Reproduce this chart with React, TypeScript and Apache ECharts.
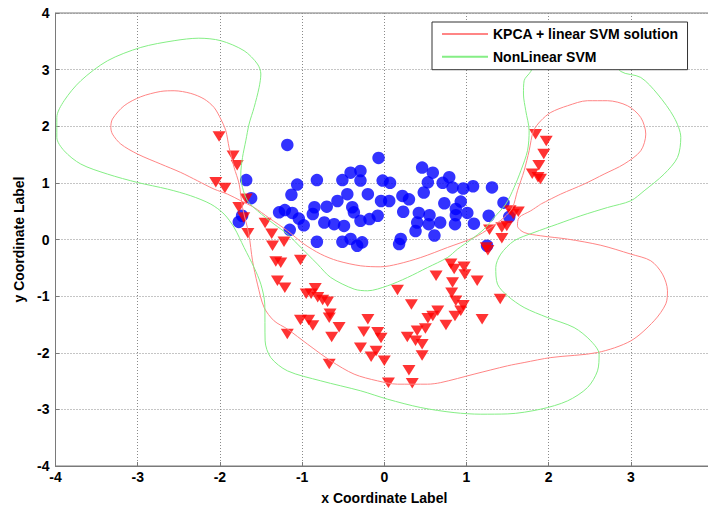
import React, { useEffect, useRef } from "react";
import * as echarts from "echarts";

const FONT = '"Liberation Sans", Arial, sans-serif';

const xTicks = [-4, -3, -2, -1, 0, 1, 2, 3, 4];
const yTicks = [-4, -3, -2, -1, 0, 1, 2, 3, 4];
const legendNames = ["KPCA + linear SVM solution", "NonLinear SVM"];

const blueClass: [number, number][] = [
  [-1.18, 1.67], [-0.07, 1.44], [-1.68, 1.05], [-0.82, 1.05], [-1.06, 0.97], [-0.51, 1.05],
  [-0.41, 1.18], [-0.29, 1.21], [-0.29, 1.04], [-0.02, 1.04], [0.07, 1.0], [-1.13, 0.79],
  [-1.62, 0.73], [-0.45, 0.8], [-0.2, 0.8], [-0.57, 0.68], [-0.04, 0.68], [0.06, 0.68],
  [-1.28, 0.48], [-1.21, 0.52], [-1.12, 0.47], [-0.85, 0.57], [-0.7, 0.58], [-0.39, 0.57],
  [-0.87, 0.45], [-1.04, 0.37], [-0.98, 0.25], [-1.77, 0.31], [-1.73, 0.42], [-0.73, 0.3],
  [-0.61, 0.27], [-0.49, 0.24], [-0.29, 0.33], [-0.18, 0.36], [-0.08, 0.42], [-0.37, 0.48],
  [-1.15, 0.17], [-0.82, -0.04], [-0.51, -0.04], [-0.27, -0.05], [-0.41, 0.01], [-0.33, -0.11],
  [0.46, 1.27], [0.59, 1.18], [0.53, 1.01], [0.79, 1.1], [0.71, 1.0], [0.83, 0.92],
  [0.96, 0.9], [1.08, 0.94], [1.31, 0.92], [0.48, 0.83], [0.22, 0.77], [0.3, 0.71],
  [0.73, 0.64], [0.93, 0.67], [0.87, 0.54], [0.23, 0.49], [0.42, 0.47], [0.55, 0.43],
  [0.87, 0.43], [1.01, 0.47], [1.27, 0.42], [1.45, 0.65], [0.4, 0.3], [0.54, 0.27],
  [0.68, 0.3], [0.86, 0.27], [1.09, 0.28], [0.38, 0.15], [0.61, 0.07], [0.2, 0.01],
  [0.18, -0.08], [1.52, 0.4], [1.25, -0.11],
];

const redClass: [number, number][] = [
  [-2.01, 1.82], [-1.84, 1.48], [-1.79, 1.31], [-2.05, 1.01], [-1.94, 0.91], [-1.68, 0.72],
  [-1.77, 0.57], [-1.71, 0.39], [-1.45, 0.29], [-1.66, 0.11], [-1.37, 0.1], [-1.22, -0.04],
  [-1.36, -0.11], [-1.32, -0.39], [-1.26, -0.41], [-1.02, -0.36], [-1.3, -0.73], [-1.21, -0.85],
  [-0.95, -0.96], [-0.84, -0.86], [-0.89, -0.96], [-0.81, -1.02], [-0.75, -1.07], [-0.69, -1.1],
  [-0.66, -1.31], [-0.67, -1.38], [-1.02, -1.42], [-0.92, -1.42], [-0.87, -1.52], [-0.55, -1.55],
  [-0.64, -1.72], [-1.18, -1.67], [-0.2, -1.41], [-0.25, -1.63], [-0.08, -1.64], [-0.04, -1.74],
  [-0.29, -1.91], [-0.1, -1.97], [-0.16, -2.07], [0.0, -2.14], [-0.67, -2.2],
  [0.81, -0.43], [0.85, -0.52], [0.97, -0.48], [0.98, -0.62], [1.13, -0.73], [0.63, -0.64],
  [0.83, -0.76], [0.16, -0.89], [0.82, -0.94], [0.87, -1.08], [0.96, -1.16], [1.41, -1.05],
  [0.33, -1.15], [0.93, -1.26], [0.86, -1.35], [0.65, -1.26], [0.59, -1.35], [0.53, -1.39],
  [1.19, -1.41], [0.75, -1.51], [0.5, -1.57], [0.4, -1.61], [0.28, -1.72], [0.38, -1.79],
  [0.46, -1.85], [0.46, -2.05], [0.3, -2.31], [0.05, -2.53], [0.34, -2.54],
  [1.84, 1.86], [1.97, 1.74], [1.94, 1.51], [1.88, 1.31], [1.8, 1.16], [1.87, 1.1],
  [1.9, 1.07], [1.53, 0.51], [1.63, 0.49], [1.57, 0.45], [1.28, 0.17], [1.43, 0.21],
  [1.49, 0.24], [1.43, 0.02], [1.24, -0.14], [1.26, -0.19],
];

const kpcaCurve: [number, number][] = [
  [1.904, 0.625], [1.782, 0.507], [1.64, 0.389], [1.62, 0.242], [1.701, 0.124], [1.904, 0.065],
  [2.229, 0.007], [2.634, -0.102], [2.999, -0.258], [3.242, -0.376], [3.384, -0.611], [3.445, -0.906],
  [3.425, -1.136], [3.282, -1.436], [2.999, -1.79], [2.594, -1.996], [2.026, -2.085], [1.701, -2.173],
  [1.499, -2.231], [1.092, -2.378], [0.687, -2.527], [0.526, -2.555], [0.161, -2.555], [-0.083, -2.496],
  [-0.367, -2.378], [-0.651, -2.143], [-0.934, -1.848], [-1.178, -1.583], [-1.341, -1.436], [-1.462, -1.201],
  [-1.543, -0.788], [-1.603, -0.376], [-1.648, 0.095], [-1.725, 0.565], [-1.766, 0.979], [-1.827, 1.272],
  [-1.888, 1.625], [-1.928, 1.92], [-1.989, 2.127], [-2.071, 2.332], [-2.192, 2.481], [-2.354, 2.58],
  [-2.557, 2.627], [-2.719, 2.615], [-2.962, 2.521], [-3.165, 2.362], [-3.307, 2.127], [-3.327, 1.979],
  [-3.307, 1.862], [-3.206, 1.686], [-3.002, 1.509], [-2.719, 1.332], [-2.476, 1.184], [-2.273, 1.037],
  [-2.071, 0.89], [-1.908, 0.802], [-1.746, 0.684], [-1.584, 0.565], [-1.405, 0.383], [-1.178, 0.154],
  [-0.976, -0.081], [-0.773, -0.258], [-0.569, -0.376], [-0.286, -0.465], [-0.043, -0.482], [0.161, -0.435],
  [0.444, -0.318], [0.769, -0.141], [1.092, 0.035], [1.296, 0.212], [1.457, 0.389], [1.56, 0.565],
  [1.62, 0.86], [1.701, 1.214], [1.762, 1.567], [1.815, 1.92], [1.904, 2.097], [2.026, 2.244],
  [2.229, 2.362], [2.472, 2.451], [2.715, 2.451], [2.959, 2.362], [3.12, 2.155], [3.181, 1.862],
  [3.12, 1.567], [2.917, 1.332], [2.674, 1.155], [2.431, 0.979], [2.147, 0.802], [1.904, 0.625],
];

const svmCurve: [number, number][] = [
  [2.755, 3.246], [2.33, 3.475], [1.904, 3.334], [1.782, 2.968], [1.701, 2.804], [1.693, 2.569],
  [1.721, 2.274], [1.762, 1.92], [1.742, 1.567], [1.661, 1.214], [1.579, 0.919], [1.478, 0.625],
  [1.336, 0.389], [1.214, 0.184], [1.052, -0.005], [0.891, -0.17], [0.769, -0.318], [0.526, -0.495],
  [0.282, -0.671], [0.039, -0.818], [-0.204, -0.906], [-0.367, -0.876], [-0.651, -0.671], [-0.813, -0.435],
  [-1.056, -0.081], [-1.178, 0.095], [-1.341, 0.272], [-1.543, 0.507], [-1.664, 0.684], [-1.725, 0.919],
  [-1.746, 1.155], [-1.725, 1.449], [-1.685, 1.744], [-1.645, 2.039], [-1.584, 2.332], [-1.523, 2.686],
  [-1.502, 2.922], [-1.543, 3.099], [-1.706, 3.334], [-1.989, 3.511], [-2.257, 3.555], [-2.557, 3.511],
  [-2.962, 3.392], [-3.367, 3.157], [-3.692, 2.804], [-3.895, 2.451], [-3.984, 2.155], [-3.984, 1.802],
  [-3.895, 1.567], [-3.692, 1.332], [-3.367, 1.155], [-3.002, 1.007], [-2.637, 0.89], [-2.354, 0.772],
  [-2.111, 0.625], [-1.949, 0.449], [-1.827, 0.212], [-1.706, -0.141], [-1.584, -0.495], [-1.502, -0.788],
  [-1.454, -1.141], [-1.45, -1.79], [-1.381, -2.085], [-1.178, -2.32], [-0.773, -2.496], [-0.286, -2.673],
  [0.039, -2.82], [0.444, -2.968], [0.849, -3.057], [1.174, -3.085], [1.502, -3.08], [1.904, -2.996],
  [2.229, -2.85], [2.472, -2.615], [2.594, -2.32], [2.613, -2.025], [2.512, -1.79], [2.309, -1.555],
  [1.985, -1.378], [1.701, -1.201], [1.499, -0.995], [1.377, -0.788], [1.356, -0.495], [1.417, -0.258],
  [1.579, -0.023], [1.822, 0.124], [2.107, 0.272], [2.391, 0.419], [2.715, 0.565], [2.999, 0.684],
  [3.161, 0.86], [3.404, 1.155], [3.567, 1.449], [3.607, 1.802], [3.526, 2.155], [3.324, 2.569],
  [3.12, 2.862], [2.877, 2.968], [2.755, 3.246],
];

export default function App() {
  const ref = useRef<HTMLDivElement>(null);

  useEffect(() => {
    document.body.style.margin = "0";
    const chart = echarts.init(ref.current!, null, { renderer: "svg" });
    const axisLabelStyle = {
      fontFamily: FONT,
      fontSize: 14,
      fontWeight: "bold" as const,
      color: "#000",
    };
    chart.setOption({
      animation: false,
      backgroundColor: "#fff",
      grid: {
        left: 55.5,
        top: 13,
        width: 657.6,
        height: 453,
        outerBoundsMode: "none",
        containLabel: false,
        show: true,
        borderColor: "#7a7a7a",
        borderWidth: 1,
        backgroundColor: "transparent",
      },
      legend: {
        orient: "vertical",
        left: 432,
        top: 22,
        data: legendNames,
        backgroundColor: "#fff",
        borderColor: "#333",
        borderWidth: 1,
        borderRadius: 0,
        padding: [5, 9, 6, 9],
        itemWidth: 46,
        itemHeight: 14,
        itemGap: 8.7,
        itemStyle: { opacity: 0 },
        textStyle: { fontFamily: FONT, fontSize: 14, fontWeight: "bold", color: "#000" },
      },
      xAxis: {
        type: "value",
        min: xTicks[0],
        max: xTicks[xTicks.length - 1],
        interval: 1,
        name: "x Coordinate Label",
        nameLocation: "middle",
        nameGap: 25,
        nameTextStyle: axisLabelStyle,
        axisLine: { show: true, onZero: false, lineStyle: { color: "#7a7a7a", width: 1 } },
        axisTick: { show: true, inside: true, length: 4, lineStyle: { color: "#7a7a7a" } },
        axisLabel: {
          ...axisLabelStyle,
          margin: 4,
          formatter: (v: number) => (xTicks.includes(v) && v !== 4 ? String(v) : ""),
        },
        splitLine: { show: true, lineStyle: { color: "#8a8a8a", type: [1, 2], width: 1 } },
      },
      yAxis: {
        type: "value",
        min: yTicks[0],
        max: yTicks[yTicks.length - 1],
        interval: 1,
        name: "y Coordinate Label",
        nameLocation: "middle",
        nameGap: 29,
        nameTextStyle: axisLabelStyle,
        axisLine: { show: true, onZero: false, lineStyle: { color: "#7a7a7a", width: 1 } },
        axisTick: { show: true, inside: true, length: 4, lineStyle: { color: "#7a7a7a" } },
        axisLabel: { ...axisLabelStyle, margin: 6, formatter: (v: number) => String(v) },
        splitLine: { show: true, lineStyle: { color: "#8a8a8a", type: [1, 2], width: 1 } },
      },
      series: [
        {
          name: "class1",
          type: "scatter",
          data: blueClass,
          symbol: "circle",
          symbolSize: 12.5,
          itemStyle: { color: "#0000ff" },
        },
        {
          name: "class2",
          type: "scatter",
          data: redClass,
          symbol: "triangle",
          symbolSize: [13, 10.5],
          symbolRotate: 180,
          itemStyle: { color: "#ff0000" },
        },
        {
          name: legendNames[0],
          type: "line",
          data: kpcaCurve,
          symbol: "none",
          smooth: 0.3,
          color: "#ff8585",
          lineStyle: { color: "#ff8585", width: 1 },
          itemStyle: { color: "#ff8585" },
        },
        {
          name: legendNames[1],
          type: "line",
          data: svmCurve,
          symbol: "none",
          smooth: 0.3,
          color: "#85ee85",
          lineStyle: { color: "#85ee85", width: 1 },
          itemStyle: { color: "#85ee85" },
        },
      ],
    });
    return () => chart.dispose();
  }, []);

  return (
    <div
      ref={ref}
      style={{ position: "absolute", left: 0, top: 0, width: 708, height: 508, background: "#fff" }}
    />
  );
}
